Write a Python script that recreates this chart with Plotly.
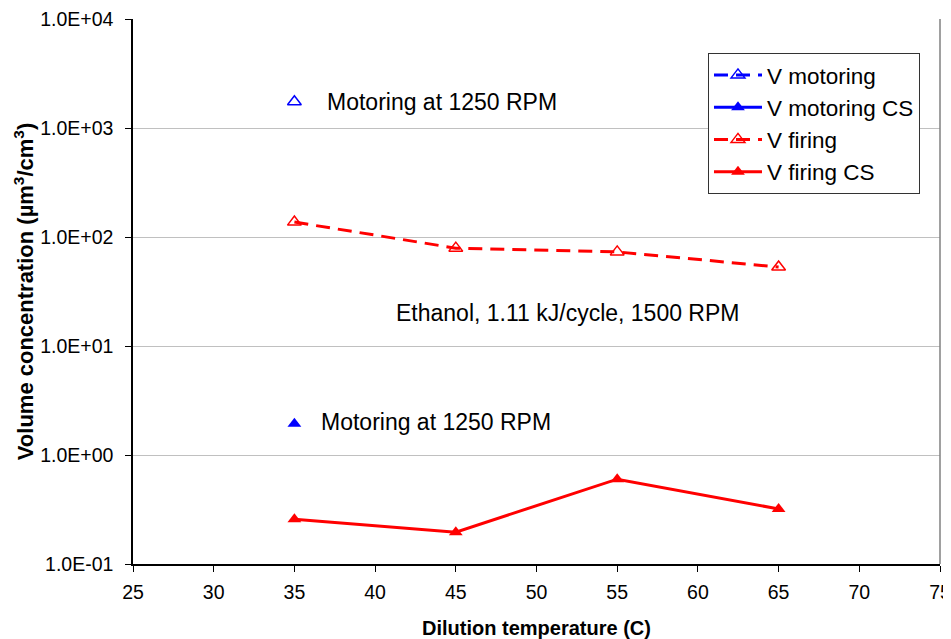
import plotly.graph_objects as go

temps = [35, 45, 55, 65]
v_firing = [137, 79, 73, 53]
v_firing_cs = [0.258, 0.196, 0.60, 0.32]
motor_temp = [35]
v_motoring = [1740]
v_motoring_cs = [1.93]

ytick_vals = [0.1, 1, 10, 100, 1000, 10000]
ytick_text = ["1.0E-01", "1.0E+00", "1.0E+01", "1.0E+02", "1.0E+03", "1.0E+04"]
xtick_vals = [25, 30, 35, 40, 45, 50, 55, 60, 65, 70, 75]

font = "Liberation Sans, Arial, sans-serif"
dash = "14px,8px"

fig = go.Figure()
fig.add_trace(go.Scatter(x=motor_temp, y=v_motoring, name="V motoring", mode="lines+markers",
                         line=dict(color="#0000ff", width=3, dash=dash),
                         marker=dict(symbol="triangle-up-open", size=12, color="#0000ff", line=dict(width=1.5))))
fig.add_trace(go.Scatter(x=motor_temp, y=v_motoring_cs, name="V motoring CS", mode="lines+markers",
                         line=dict(color="#0000ff", width=3),
                         marker=dict(symbol="triangle-up", size=12, color="#0000ff")))
fig.add_trace(go.Scatter(x=temps, y=v_firing, name="V firing", mode="lines+markers",
                         line=dict(color="#ff0000", width=3, dash=dash),
                         marker=dict(symbol="triangle-up-open", size=12, color="#ff0000", line=dict(width=1.5))))
fig.add_trace(go.Scatter(x=temps, y=v_firing_cs, name="V firing CS", mode="lines+markers",
                         line=dict(color="#ff0000", width=3),
                         marker=dict(symbol="triangle-up", size=12, color="#ff0000")))

fig.add_annotation(x=0.238, y=3.239, xref="paper", yref="y", text="Motoring at 1250 RPM",
                   showarrow=False, xanchor="left", font=dict(family=font, size=23, color="black"))
fig.add_annotation(x=0.2305, y=0.303, xref="paper", yref="y", text="Motoring at 1250 RPM",
                   showarrow=False, xanchor="left", font=dict(family=font, size=23, color="black"))
fig.add_annotation(x=0.539, y=1.303, xref="paper", yref="y", text="Ethanol, 1.11 kJ/cycle, 1500 RPM",
                   showarrow=False, xanchor="center", font=dict(family=font, size=23, color="black"))

fig.update_layout(
    width=943, height=631,
    margin=dict(l=125, r=11, t=11, b=75),
    paper_bgcolor="white", plot_bgcolor="white",
    font=dict(family=font, color="black"),
    showlegend=True,
    legend=dict(x=0.7125, y=0.938, xanchor="left", yanchor="top",
                bordercolor="#333333", borderwidth=1, bgcolor="white",
                font=dict(family=font, size=22.5), tracegroupgap=0, itemwidth=48),
    xaxis=dict(range=[25, 75], tickvals=xtick_vals, showgrid=False, zeroline=False, automargin=False,
               showline=True, linecolor="black", linewidth=1.5, ticks="outside", ticklen=6,
               tickcolor="black", tickfont=dict(size=19.5), ticklabelstandoff=4,
               ticklabeloverflow="allow",
               title=dict(text="<b>Dilution temperature (C)</b>", font=dict(size=20), standoff=25)),
    yaxis=dict(type="log", range=[-1, 4], tickvals=ytick_vals, ticktext=ytick_text, automargin=False,
               showgrid=True, gridcolor="#c0c0c0", gridwidth=1, zeroline=False,
               showline=True, linecolor="black", linewidth=1.5, ticks="outside", ticklen=6,
               tickcolor="black", tickfont=dict(size=19.5), ticklabelstandoff=8,
               ticklabeloverflow="allow",
               title=dict(text="<b>Volume concentration (µm<sup>3</sup>/cm<sup>3</sup>)</b>",
                          font=dict(size=22), standoff=0)),
)
fig.add_shape(type="line", xref="paper", yref="paper", x0=1, x1=1, y0=0, y1=1,
              line=dict(color="#808080", width=1.5))

fig.write_html("out.html")
